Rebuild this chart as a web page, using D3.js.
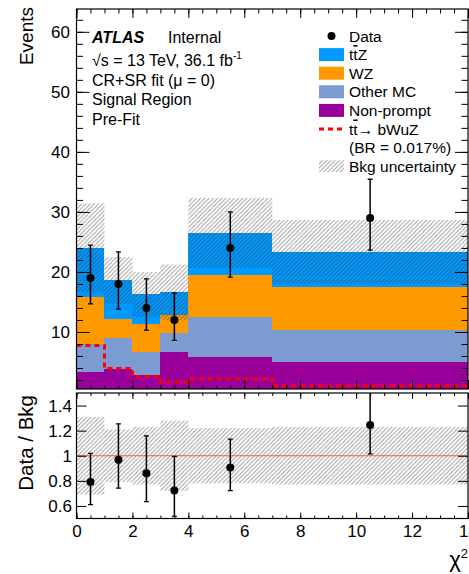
<!DOCTYPE html>
<html>
<head>
<meta charset="utf-8">
<script src="https://cdn.jsdelivr.net/npm/d3@7"></script>
<style>
  body { margin: 0; background: #fff; }
  svg { display: block; font-family: "Liberation Sans", Arial, sans-serif; }
</style>
</head>
<body>
<div id="chart"></div>
<script>
// bin edges in chi2 and per-bin yields
var binEdges = [0, 1, 2, 3, 4, 7, 14];
var nonPrompt = [3.4, 3.9, 2.9, 6.7, 5.9, 5.0];
var otherMC = [4.6, 5.1, 3.7, 3.2, 6.6, 5.4];
var wz = [7.8, 3.1, 4.8, 2.85, 7.0, 7.1];
var ttz = [8.2, 6.5, 4.85, 3.85, 7.0, 5.8];
var bkgRelUnc = [0.31, 0.21, 0.23, 0.28, 0.22, 0.23];
var signal = [7.75, 3.9, 2.6, 1.65, 2.15, 1.05];
var dataX = [0.5, 1.5, 2.5, 3.5, 5.5, 10.5];
var dataY = [19, 18, 14, 12, 24, 29];
var dataErrUp = [5.45, 5.33, 4.83, 4.52, 5.99, 6.44];
var dataErrDown = [4.33, 4.2, 3.7, 3.41, 4.86, 5.37];

var xTicksMajor = [0, 2, 4, 6, 8, 10, 12, 14];
var yTicksMain = [10, 20, 30, 40, 50, 60];
var yTicksRatio = [0.6, 0.8, 1, 1.2, 1.4];

var layers = [
  { name: "Non-prompt", vals: nonPrompt, color: "#990099" },
  { name: "Other MC", vals: otherMC, color: "#7b9bd1" },
  { name: "WZ", vals: wz, color: "#ff9900" },
  { name: "ttZ", vals: ttz, color: "#0099ff" }
];

var W = 469, H = 574;
var xL = 76.5, xR = 468, mT = 9, mB = 389, rT = 393, rB = 518.5;
var font = "'Liberation Sans', Arial, sans-serif";

var svg = d3.select("#chart").append("svg").attr("width", W).attr("height", H);

var x = d3.scaleLinear().domain([0, 14]).range([xL, xR]);
var y = d3.scaleLinear().domain([0.5, 63.8]).range([mB, mT]);
var yr = d3.scaleLinear().domain([0.5, 1.5]).range([rB, rT]);

var defs = svg.append("defs");
var pat = defs.append("pattern").attr("id", "hatch").attr("patternUnits", "userSpaceOnUse")
    .attr("width", 4.2).attr("height", 4.2);
pat.append("path").attr("d", "M-1,1 l2,-2 M0,4.2 l4.2,-4.2 M3.2,5.2 l2,-2")
    .attr("stroke", "#333").attr("stroke-opacity", 0.5).attr("stroke-width", 0.9);

defs.append("clipPath").attr("id", "clipMain").append("rect")
    .attr("x", xL).attr("y", mT).attr("width", xR - xL).attr("height", mB - mT);
defs.append("clipPath").attr("id", "clipRatio").append("rect")
    .attr("x", xL).attr("y", rT).attr("width", xR - xL).attr("height", rB - rT);

// stack
var bins = d3.range(binEdges.length - 1).map(function(i) {
  return { lo: binEdges[i], hi: binEdges[i + 1], i: i };
});
var total = bins.map(function(b) {
  return d3.sum(layers, function(l) { return l.vals[b.i]; });
});

var gMain = svg.append("g").attr("clip-path", "url(#clipMain)");

layers.forEach(function(l, li) {
  gMain.selectAll(".l" + li).data(bins).enter().append("rect")
    .attr("x", function(b) { return x(b.lo); })
    .attr("width", function(b) { return x(b.hi) - x(b.lo); })
    .attr("y", function(b) {
      var top = d3.sum(layers.slice(0, li + 1), function(k) { return k.vals[b.i]; });
      return y(top);
    })
    .attr("height", function(b) {
      var bot = d3.sum(layers.slice(0, li), function(k) { return k.vals[b.i]; });
      var top = bot + l.vals[b.i];
      return y(Math.max(bot, 0.5)) - y(top);
    })
    .attr("fill", l.color)
    .attr("shape-rendering", "crispEdges");
});

// uncertainty band
gMain.selectAll(".unc").data(bins).enter().append("rect")
  .attr("x", function(b) { return x(b.lo); })
  .attr("width", function(b) { return x(b.hi) - x(b.lo); })
  .attr("y", function(b) { return y(total[b.i] * (1 + bkgRelUnc[b.i])); })
  .attr("height", function(b) { return y(total[b.i] * (1 - bkgRelUnc[b.i])) - y(total[b.i] * (1 + bkgRelUnc[b.i])); })
  .attr("fill", "url(#hatch)");

// signal dashed step line
var sigPts = [];
bins.forEach(function(b) {
  sigPts.push([x(b.lo), y(signal[b.i])]);
  sigPts.push([x(b.hi), y(signal[b.i])]);
});
gMain.append("path").attr("d", d3.line()(sigPts))
  .attr("fill", "none").attr("stroke", "#ff0000").attr("stroke-width", 3)
  .attr("stroke-dasharray", "5,4");

// data points
function drawData(g, ys, ups, downs, sy) {
  var pts = g.selectAll(".pt").data(dataX).enter().append("g");
  pts.append("line")
    .attr("x1", function(d) { return x(d); }).attr("x2", function(d) { return x(d); })
    .attr("y1", function(d, i) { return sy(ys[i] + ups[i]); })
    .attr("y2", function(d, i) { return sy(ys[i] - downs[i]); })
    .attr("stroke", "#000").attr("stroke-width", 1.5);
  [ups, downs].forEach(function(arr, k) {
    pts.append("line")
      .attr("x1", function(d) { return x(d) - 2.5; }).attr("x2", function(d) { return x(d) + 2.5; })
      .attr("y1", function(d, i) { return sy(k ? ys[i] - arr[i] : ys[i] + arr[i]); })
      .attr("y2", function(d, i) { return sy(k ? ys[i] - arr[i] : ys[i] + arr[i]); })
      .attr("stroke", "#000").attr("stroke-width", 1.3);
  });
  pts.append("circle")
    .attr("cx", function(d) { return x(d); })
    .attr("cy", function(d, i) { return sy(ys[i]); })
    .attr("r", 4).attr("fill", "#000");
}
drawData(gMain, dataY, dataErrUp, dataErrDown, y);

// ratio panel
var gRatio = svg.append("g").attr("clip-path", "url(#clipRatio)");
gRatio.selectAll(".runc").data(bins).enter().append("rect")
  .attr("x", function(b) { return x(b.lo); })
  .attr("width", function(b) { return x(b.hi) - x(b.lo); })
  .attr("y", function(b) { return yr(1 + bkgRelUnc[b.i]); })
  .attr("height", function(b) { return yr(1 - bkgRelUnc[b.i]) - yr(1 + bkgRelUnc[b.i]); })
  .attr("fill", "url(#hatch)");
gRatio.append("line").attr("x1", xL).attr("x2", xR).attr("y1", yr(1)).attr("y2", yr(1))
  .attr("stroke", "#ff5555").attr("stroke-width", 1);

var binOf = dataX.map(function(d) { return bins.findIndex(function(b) { return d > b.lo && d < b.hi; }); });
var ratioY = dataY.map(function(v, i) { return v / total[binOf[i]]; });
var ratioUp = dataErrUp.map(function(v, i) { return v / total[binOf[i]]; });
var ratioDown = dataErrDown.map(function(v, i) { return v / total[binOf[i]]; });
drawData(gRatio, ratioY, ratioUp, ratioDown, yr);

// axes
function ax(gen, tx, ty) {
  var g = svg.append("g").attr("transform", "translate(" + tx + "," + ty + ")").call(gen);
  g.select(".domain").remove();
  g.selectAll("line").attr("stroke", "#000").attr("stroke-width", 1);
  g.selectAll("text").attr("font-family", font).attr("fill", "#000");
  return g;
}
var minorX = d3.range(0, 14.01, 0.5);
var minorY = d3.range(2, 63, 2);

// main panel
ax(d3.axisBottom(x).tickValues(xTicksMajor).tickSize(-9).tickFormat(""), 0, mB);
ax(d3.axisBottom(x).tickValues(minorX).tickSize(-4.5).tickFormat(""), 0, mB);
ax(d3.axisTop(x).tickValues(xTicksMajor).tickSize(-9).tickFormat(""), 0, mT);
ax(d3.axisTop(x).tickValues(minorX).tickSize(-4.5).tickFormat(""), 0, mT);
ax(d3.axisLeft(y).tickValues(yTicksMain).tickSize(-13).tickPadding(6.5), xL, 0)
  .selectAll("text").attr("font-size", 17);
ax(d3.axisLeft(y).tickValues(minorY).tickSize(-6.5).tickFormat(""), xL, 0);
ax(d3.axisRight(y).tickValues(yTicksMain).tickSize(-13).tickFormat(""), xR, 0);
ax(d3.axisRight(y).tickValues(minorY).tickSize(-6.5).tickFormat(""), xR, 0);

// ratio panel
ax(d3.axisBottom(x).tickValues(xTicksMajor).tickSize(-6).tickPadding(6.4), 0, rB)
  .selectAll("text").attr("font-size", 17);
ax(d3.axisBottom(x).tickValues(minorX).tickSize(-3).tickFormat(""), 0, rB);
ax(d3.axisTop(x).tickValues(xTicksMajor).tickSize(-6).tickFormat(""), 0, rT);
ax(d3.axisTop(x).tickValues(minorX).tickSize(-3).tickFormat(""), 0, rT);
ax(d3.axisLeft(yr).tickValues(yTicksRatio).tickSize(-10).tickPadding(4.5)
    .tickFormat(function(d) { return String(+d.toFixed(1)); }), xL, 0)
  .selectAll("text").attr("font-size", 17);
ax(d3.axisRight(yr).tickValues(yTicksRatio).tickSize(-10).tickFormat(""), xR, 0);

// frames
[[mT, mB], [rT, rB]].forEach(function(p) {
  svg.append("rect").attr("x", xL).attr("y", p[0]).attr("width", xR - xL).attr("height", p[1] - p[0])
    .attr("fill", "none").attr("stroke", "#000").attr("stroke-width", 1.2);
});

// axis titles
svg.append("text").attr("transform", "translate(33,7) rotate(-90)")
  .attr("text-anchor", "end").attr("font-size", 19).text("Events");
svg.append("text").attr("transform", "translate(33,395) rotate(-90)")
  .attr("text-anchor", "end").attr("font-size", 20.5).text("Data / Bkg");
var chi = svg.append("text").attr("x", 468).attr("y", 567).attr("text-anchor", "end").attr("font-size", 22);
chi.append("tspan").text("χ");
chi.append("tspan").attr("font-size", 13).attr("dy", -9).text("2");

// ATLAS label block
var lbl = svg.append("g").attr("font-size", 16);
lbl.append("text").attr("x", 92).attr("y", 43).attr("font-weight", "bold").attr("font-style", "italic").text("ATLAS");
lbl.append("text").attr("x", 168).attr("y", 43).text("Internal");
var ls = lbl.append("text").attr("x", 92).attr("y", 65.5);
ls.append("tspan").text("√s = 13 TeV, 36.1 fb");
ls.append("tspan").attr("font-size", 10).attr("dy", -7).text("-1");
lbl.append("text").attr("x", 92).attr("y", 85.5).text("CR+SR fit (μ = 0)");
lbl.append("text").attr("x", 92).attr("y", 105).text("Signal Region");
lbl.append("text").attr("x", 92).attr("y", 125).text("Pre-Fit");

// legend
var leg = svg.append("g").attr("font-size", 15.5);
var rowY = [36, 54.6, 73.2, 91.8, 110.4, 129, 147.6, 166.2];
var bx = 319, bw = 25, tx = 349;
function legText(i, parts) {
  var t = leg.append("text").attr("x", tx).attr("y", rowY[i] + 5.5);
  parts.forEach(function(p) {
    var s = t.append("tspan").text(p.t);
    if (p.over) s.style("text-decoration", "overline");
  });
}
leg.append("circle").attr("cx", bx + 12.5).attr("cy", rowY[0]).attr("r", 4).attr("fill", "#000");
legText(0, [{ t: "Data" }]);
var legLayers = layers.slice().reverse();
legLayers.forEach(function(l, k) {
  leg.append("rect").attr("x", bx).attr("y", rowY[k + 1] - 6.5).attr("width", bw).attr("height", 13)
    .attr("fill", l.color);
});
legText(1, [{ t: "t" }, { t: "t", over: true }, { t: "Z" }]);
legText(2, [{ t: "WZ" }]);
legText(3, [{ t: "Other MC" }]);
legText(4, [{ t: "Non-prompt" }]);
leg.append("line").attr("x1", bx).attr("x2", bx + bw).attr("y1", rowY[5]).attr("y2", rowY[5])
  .attr("stroke", "#ff0000").attr("stroke-width", 3).attr("stroke-dasharray", "5,4");
legText(5, [{ t: "t" }, { t: "t", over: true }, { t: "→ bWuZ" }]);
legText(6, [{ t: "(BR = 0.017%)" }]);
leg.append("rect").attr("x", bx).attr("y", rowY[7] - 6).attr("width", bw).attr("height", 12)
  .attr("fill", "url(#hatch)");
legText(7, [{ t: "Bkg uncertainty" }]);
</script>
</body>
</html>
